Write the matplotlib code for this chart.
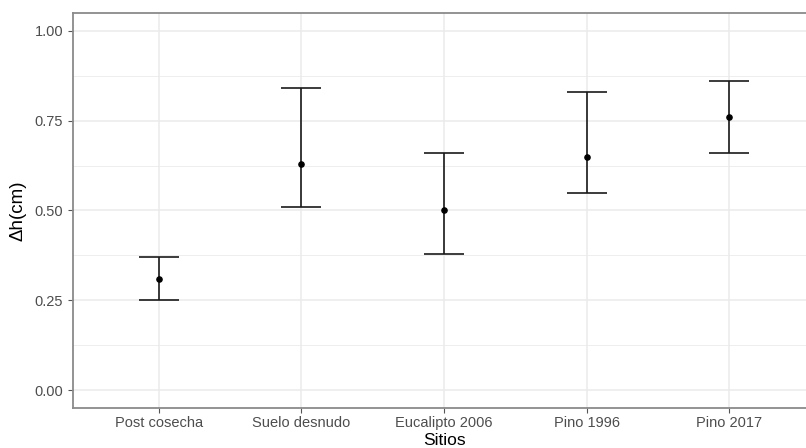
import matplotlib
matplotlib.use("Agg")
import matplotlib.pyplot as plt
import numpy as np

categories = ["Post cosecha", "Suelo desnudo", "Eucalipto 2006", "Pino 1996", "Pino 2017"]
means = [0.31, 0.63, 0.50, 0.65, 0.76]
lower = [0.25, 0.51, 0.38, 0.55, 0.66]
upper = [0.37, 0.84, 0.66, 0.83, 0.86]
yticks = [0.00, 0.25, 0.50, 0.75, 1.00]
ytick_labels = ["0.00", "0.25", "0.50", "0.75", "1.00"]

plt.rcParams['font.family'] = ['Liberation Sans', 'DejaVu Sans']

fig = plt.figure(figsize=(8.06, 4.48), dpi=100)
ax = fig.add_axes([73/806, 40/448, (815-73)/806, (408-13)/448])

x = np.arange(1, len(categories) + 1)
means_a = np.array(means)
yerr = [means_a - np.array(lower), np.array(upper) - means_a]

# minor gridlines
for v in [0.125, 0.375, 0.625, 0.875]:
    ax.axhline(v, color='#ebebeb', lw=0.6, zorder=0)
for v in yticks:
    ax.axhline(v, color='#ebebeb', lw=1.1, zorder=0)
for v in x:
    ax.axvline(v, color='#ebebeb', lw=1.1, zorder=0)

ax.errorbar(x, means, yerr=yerr, fmt='none', ecolor='#1a1a1a', elinewidth=1.2,
            capsize=14.5, capthick=1.2, zorder=3)
ax.scatter(x, means, s=14, color='black', zorder=4)

ax.set_xlim(0.4, 5.6)
ax.set_ylim(-0.05, 1.05)
ax.set_xticks(x)
ax.set_xticklabels(categories)
ax.set_yticks(yticks)
ax.set_yticklabels(ytick_labels)
ax.tick_params(axis='both', colors='#555555', labelcolor='#4d4d4d', labelsize=10.5,
               length=3.5, width=0.8)
ax.tick_params(axis='x', pad=2)
for s in ax.spines.values():
    s.set_color('#8a8a8a')
    s.set_linewidth(1.3)

# x-axis title placed at the bottom edge, centred under the panel
xc = ax.transData.transform((3, 0))[0] / fig.bbox.width
fig.text(xc, 0.0, "Sitios", fontsize=12.5, ha='center', va='bottom')
ax.set_ylabel("\u0394h(cm)", fontsize=13.5, labelpad=6)

fig.savefig("out.png", dpi=100)
